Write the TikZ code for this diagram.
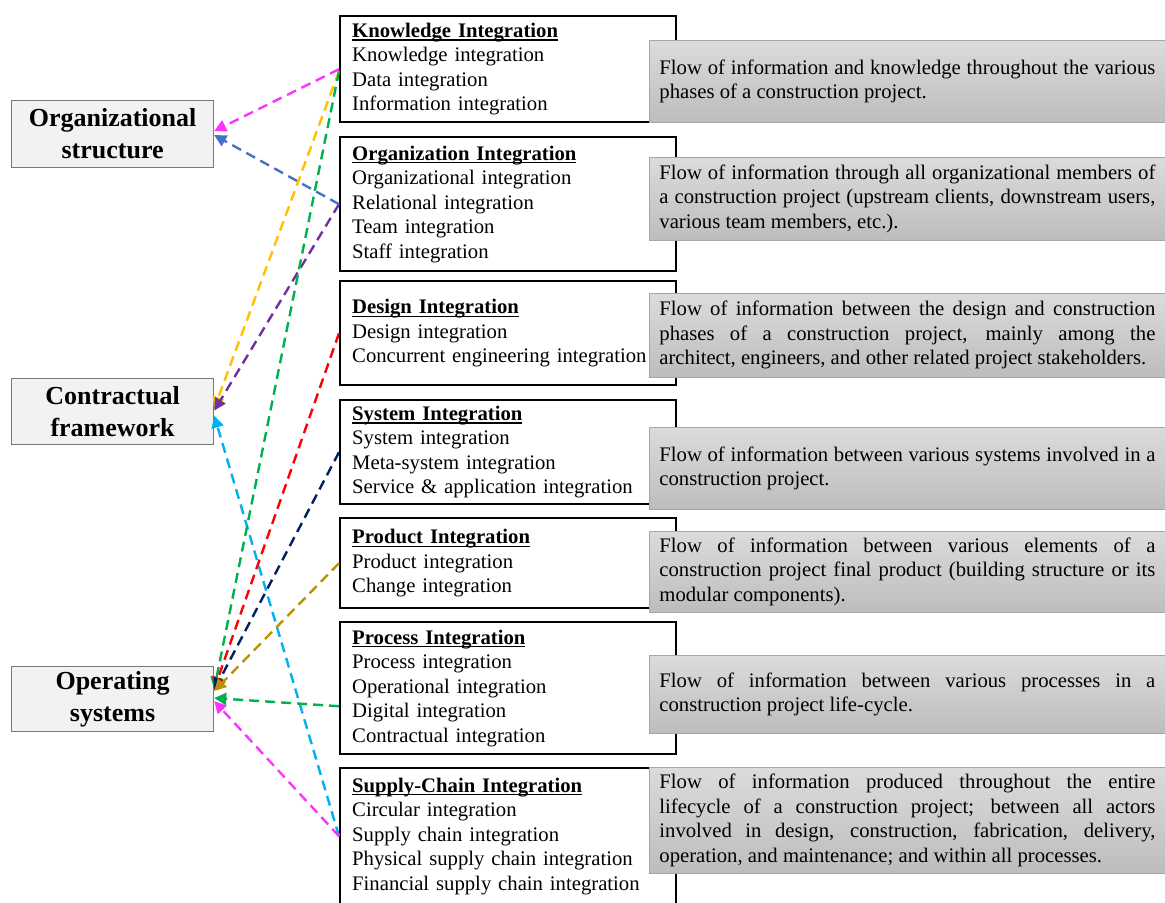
\documentclass[tikz,border=0pt]{standalone}
\usepackage{fontspec}
\setmainfont{Liberation Serif}
\usetikzlibrary{arrows.meta}
\definecolor{cMagenta}{RGB}{255,51,255}
\definecolor{cBlue}{RGB}{68,114,196}
\definecolor{cYellow}{RGB}{255,192,0}
\definecolor{cGreen}{RGB}{0,176,80}
\definecolor{cPurple}{RGB}{112,48,160}
\definecolor{cRed}{RGB}{255,0,0}
\definecolor{cNavy}{RGB}{0,32,96}
\definecolor{cOchre}{RGB}{191,144,0}
\definecolor{cCyan}{RGB}{0,176,240}
\definecolor{cFrame}{RGB}{120,120,120}
\definecolor{cPanel}{RGB}{242,242,242}
\hyphenpenalty=10000
\exhyphenpenalty=10000
\tikzset{
  aspect/.style={draw=cFrame,line width=0.6pt,fill=cPanel,anchor=north west,
    minimum width=101pt,align=center,inner sep=0pt,
    font=\fontsize{13}{16}\selectfont\bfseries},
  kind/.style={draw,line width=1.2pt,anchor=north west,fill=white,
    minimum width=168pt,text width=156pt,inner xsep=5.5pt,inner ysep=0pt,align=left,
    font=\fontsize{10.35}{12.25}\selectfont},
  note/.style={draw=gray!70,line width=0.4pt,anchor=north west,
    top color=gray!28,bottom color=gray!52,
    text width=248pt,inner xsep=5pt,inner ysep=0pt,align=justify,
    font=\fontsize{10.35}{12.25}\selectfont},
  link/.style={line width=1.2pt,dash pattern=on 5pt off 3pt,
    -{Triangle[length=6pt,width=6pt]}}
}
\newcommand{\ktitle}[1]{\setbox0\hbox{\textbf{#1}}\rlap{\rule[-1.6pt]{\wd0}{0.6pt}}\box0}
\begin{document}
\begin{tikzpicture}[x=0.5pt,y=-0.5pt]
\useasboundingbox (0,0) rectangle (1165,903);
% left side
\node[aspect,minimum height=33.5pt] (orgs) at (11,100) {Organizational\\structure};
\node[aspect,minimum height=33pt] (contr) at (11,378) {Contractual\\framework};
\node[aspect,minimum height=32.5pt] (opsys) at (11,666) {Operating\\systems};
% integration types
\node[kind,minimum height=53pt] (know) at (339,15) {\ktitle{Knowledge Integration}\\Knowledge integration\\Data integration\\Information integration};
\node[kind,minimum height=67pt] (orgi) at (339,136) {\ktitle{Organization Integration}\\Organizational integration\\Relational integration\\Team integration\\Staff integration};
\node[kind,minimum height=52pt] (desi) at (339,280) {\ktitle{Design Integration}\\Design integration\\Concurrent engineering integration};
\node[kind,minimum height=52pt] (sysi) at (339,399) {\ktitle{System Integration}\\System integration\\Meta-system integration\\Service \& application integration};
\node[kind,minimum height=45pt] (prod) at (339,517) {\ktitle{Product Integration}\\Product integration\\Change integration};
\node[kind,minimum height=66pt] (proc) at (339,621) {\ktitle{Process Integration}\\Process integration\\Operational integration\\Digital integration\\Contractual integration};
\node[kind,minimum height=68pt] (supc) at (339,767) {\ktitle{Supply-Chain Integration}\\Circular integration\\Supply chain integration\\Physical supply chain integration\\Financial supply chain integration};
% descriptions
\node[note,minimum height=41pt] (dknow) at (649,40) {Flow of information and knowledge throughout the various\linebreak phases of a construction project.};
\node[note,minimum height=41.5pt] (dorgi) at (649,157) {Flow of information through all organizational members of\linebreak a construction project (upstream clients, downstream users,\linebreak various team members, etc.).};
\node[note,minimum height=42pt] (ddesi) at (649,293) {Flow of information between the design and construction\linebreak phases of a construction project, mainly among the\linebreak architect, engineers, and other related project stakeholders.};
\node[note,minimum height=41pt] (dsysi) at (649,427) {Flow of information between various systems involved in a\linebreak construction project.};
\node[note,minimum height=40.5pt] (dprod) at (649,531) {Flow of information between various elements of a\linebreak construction project final product (building structure or its\linebreak modular components).};
\node[note,minimum height=39pt] (dproc) at (649,655) {Flow of information between various processes in a\linebreak construction project life-cycle.};
\node[note,minimum height=53pt] (dsupc) at (649,767) {Flow of information produced throughout the entire\linebreak lifecycle of a construction project; between all actors\linebreak involved in design, construction, fabrication, delivery,\linebreak operation, and maintenance; and within all processes.};
% links
\draw[link,cMagenta] (know.west) -- ([yshift=1.5pt]orgs.east);
\draw[link,cBlue] (orgi.west) -- ([yshift=-0.5pt]orgs.east);
\draw[link,cYellow] ([yshift=-1pt]know.west) -- ([yshift=1.5pt]contr.east);
\draw[link,cPurple] (orgi.west) -- ([yshift=0.5pt]contr.east);
\draw[link,cCyan] (supc.west) -- ([yshift=-2pt]contr.east);
\draw[link,cGreen] ([yshift=-1pt]know.west) -- ([yshift=5pt]opsys.east);
\draw[link,cRed] (desi.west) -- ([yshift=5pt]opsys.east);
\draw[link,cNavy] (sysi.west) -- ([yshift=4.5pt]opsys.east);
\draw[link,cOchre] (prod.west) -- ([yshift=4pt]opsys.east);
\draw[link,cGreen] ([yshift=-9pt]proc.west) -- ([yshift=0.5pt]opsys.east);
\draw[link,cMagenta] (supc.west) -- ([yshift=-1pt]opsys.east);
\end{tikzpicture}
\end{document}
